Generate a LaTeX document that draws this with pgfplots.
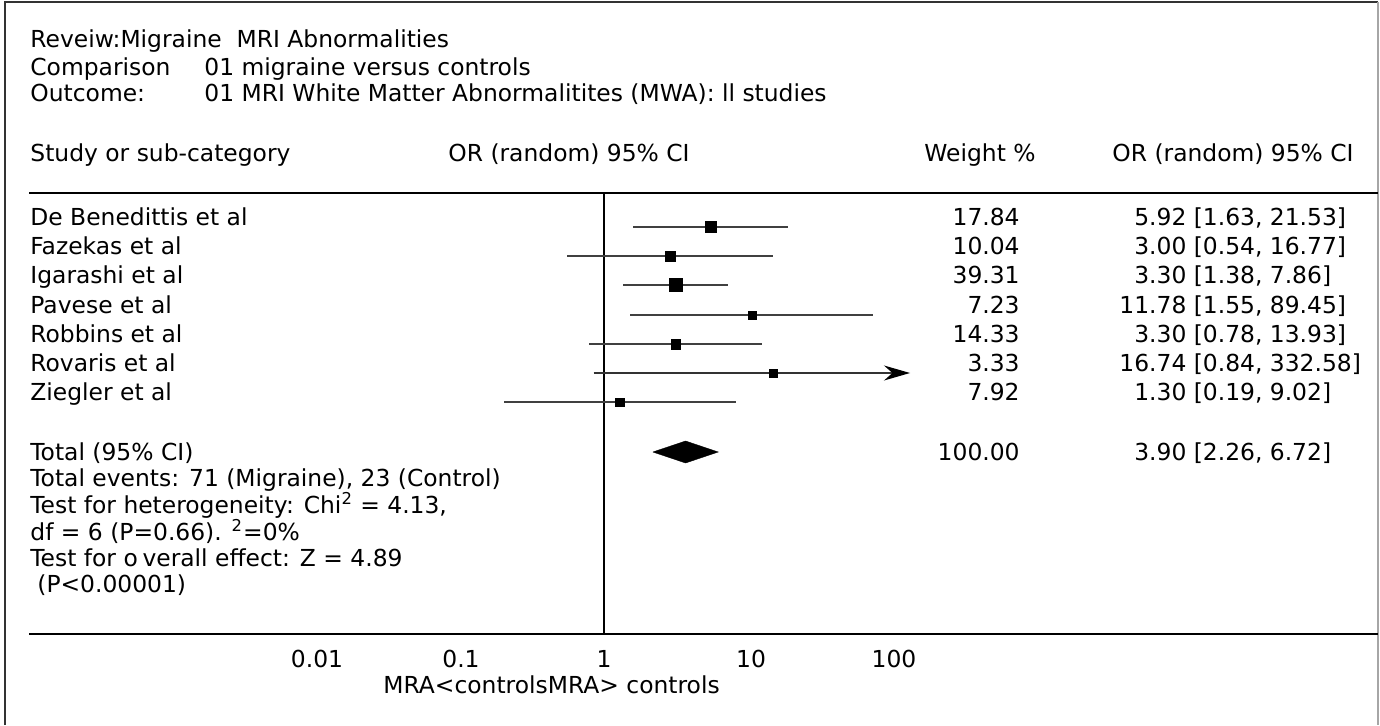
\documentclass[border=0pt]{standalone}
\usepackage{fontspec}
\setmainfont{DejaVu Sans}
\usepackage{pgfplots}
\pgfplotsset{compat=1.18}
\usetikzlibrary{arrows.meta}
\begin{document}
\fontsize{11.7}{14}\selectfont
\begin{tikzpicture}
\path[use as bounding box] (0,0) rectangle (690pt,362.5pt);

\begin{axis}[at={(14.5pt,45.5pt)}, anchor=south west, scale only axis,
  width=674.5pt, height=220.5pt,
  xmode=log, xmin=6.81e-5, xmax=4.062e5,
  ymin=193, ymax=634, y dir=reverse,
  hide axis, clip=false]
% line of no effect
\addplot[black, line width=1pt] coordinates {(1,193) (1,634)};
% confidence intervals
\addplot[black!75, line width=0.75pt] coordinates {(1.63,227) (21.53,227)};
\addplot[black!75, line width=0.75pt] coordinates {(0.54,256) (16.77,256)};
\addplot[black!75, line width=0.75pt] coordinates {(1.38,285) (7.86,285)};
\addplot[black!75, line width=0.75pt] coordinates {(1.55,315) (89.45,315)};
\addplot[black!75, line width=0.75pt] coordinates {(0.78,344) (13.93,344)};
\addplot[black!80, line width=0.75pt, -{Stealth[length=13pt,width=7.5pt,color=black]}] coordinates {(0.84,373) (165,373)};
\addplot[black!75, line width=0.75pt] coordinates {(0.19,402) (9.02,402)};
% point estimates
\addplot[only marks, mark=square*, mark size=2.85pt, mark options={line width=0.2pt}, black] coordinates {(5.92,227)};
\addplot[only marks, mark=square*, mark size=2.5pt, mark options={line width=0.2pt}, black] coordinates {(3.00,256)};
\addplot[only marks, mark=square*, mark size=3.3pt, mark options={line width=0.2pt}, black] coordinates {(3.30,285)};
\addplot[only marks, mark=square*, mark size=2.05pt, mark options={line width=0.2pt}, black] coordinates {(11.78,315)};
\addplot[only marks, mark=square*, mark size=2.4pt, mark options={line width=0.2pt}, black] coordinates {(3.30,344)};
\addplot[only marks, mark=square*, mark size=2.05pt, mark options={line width=0.2pt}, black] coordinates {(16.74,373)};
\addplot[only marks, mark=square*, mark size=2.05pt, mark options={line width=0.2pt}, black] coordinates {(1.30,402)};
% pooled estimate
\addplot[fill=black, draw=black, line width=0.2pt] coordinates {(2.26,452) (3.90,441) (6.72,452) (3.90,463) (2.26,452)};
\end{axis}

\begin{scope}[x=0.5pt,y=0.5pt]
\tikzset{t/.style={anchor=base west, inner sep=0pt},
         r/.style={anchor=base east, inner sep=0pt},
         c/.style={anchor=base, inner sep=0pt}}
% frame
\draw[line width=0.6pt,black!80] (5,0) -- (5,723) -- (1378,723);
\draw[line width=0.6pt,black!35] (1378,723) -- (1378,0);
% header rule and axis rule
\draw[line width=1.3pt] (29,725-193) -- (1378,725-193);
\draw[line width=1.3pt] (29,725-634) -- (1378,725-634);
% titles
\node[t] at (30,725-48) {Reveiw:Migraine\ \ MRI Abnormalities};
\node[t] at (30,725-75) {Comparison};
\node[t] at (204,725-75) {01 migraine versus controls};
\node[t] at (30,725-101) {Outcome:};
\node[t] at (204,725-101) {01 MRI White Matter Abnormalitites (MWA): ll studies};
% header
\node[t] at (30,725-161) {Study or sub-category};
\node[t] at (448,725-161) {OR (random) 95\% CI};
\node[t] at (924,725-161) {Weight \%};
\node[t] at (1112,725-161) {OR (random) 95\% CI};
% rows
\node[t] at (30,725-225) {De Benedittis et al};
\node[t] at (30,725-254) {Fazekas et al};
\node[t] at (30,725-283) {Igarashi et al};
\node[t] at (30,725-313) {Pavese et al};
\node[t] at (30,725-342) {Robbins et al};
\node[t] at (30,725-371) {Rovaris et al};
\node[t] at (30,725-400) {Ziegler et al};
\node[r] at (1020,725-225) {17.84};
\node[r] at (1020,725-254) {10.04};
\node[r] at (1020,725-283) {39.31};
\node[r] at (1020,725-313) {7.23};
\node[r] at (1020,725-342) {14.33};
\node[r] at (1020,725-371) {3.33};
\node[r] at (1020,725-400) {7.92};
\node[r] at (1020,725-460) {100.00};
\node[t] at (1186,725-225) {\llap{5.92} [1.63, 21.53]};
\node[t] at (1186,725-254) {\llap{3.00} [0.54, 16.77]};
\node[t] at (1186,725-283) {\llap{3.30} [1.38, 7.86]};
\node[t] at (1186,725-313) {\llap{11.78} [1.55, 89.45]};
\node[t] at (1186,725-342) {\llap{3.30} [0.78, 13.93]};
\node[t] at (1186,725-371) {\llap{16.74} [0.84, 332.58]};
\node[t] at (1186,725-400) {\llap{1.30} [0.19, 9.02]};
\node[t] at (1186,725-460) {\llap{3.90} [2.26, 6.72]};
% totals and tests
\node[t] at (30,725-460) {Total (95\% CI)};
\node[t] at (30,725-486) {Total events: 71 (Migraine), 23 (Control)};
\node[t] at (30,725-513) {Test for heterogeneity: Chi\textsuperscript{2} = 4.13,};
\node[t] at (30,725-540) {df = 6 (P=0.66). \textsuperscript{2}=0\%};
\node[t] at (30,725-566) {Test for o\hspace{0.2em}verall effect: Z = 4.89};
\node[t] at (37,725-592) {(P<0.00001)};
% scale
\node[c] at (317,725-667) {0.01};
\node[c] at (461,725-667) {0.1};
\node[c] at (604,725-667) {1};
\node[c] at (751,725-667) {10};
\node[c] at (894,725-667) {100};
\node[t] at (383,725-693) {MRA<controlsMRA> controls};
\end{scope}
\end{tikzpicture}
\end{document}
